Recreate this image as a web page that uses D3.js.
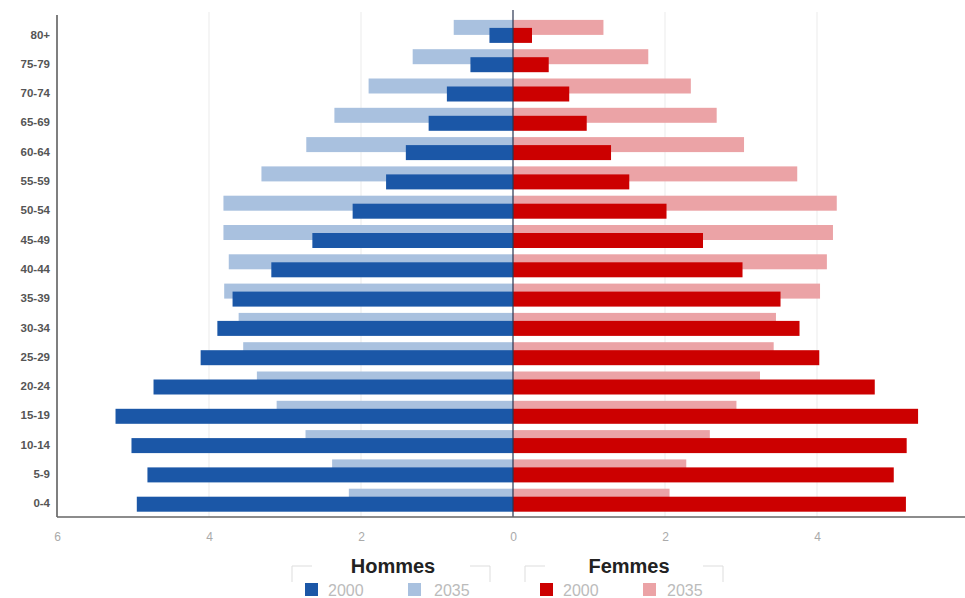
<!DOCTYPE html>
<html><head><meta charset="utf-8">
<script src="https://cdn.jsdelivr.net/npm/d3@7"></script>
<style>body{margin:0;background:#fff;}svg{display:block;font-family:Arial,"Liberation Sans",sans-serif;}</style>
</head><body><svg id="c" width="965" height="598"></svg>
<script>
const ageGroups = ["80+","75-79","70-74","65-69","60-64","55-59","50-54","45-49","40-44","35-39","30-34","25-29","20-24","15-19","10-14","5-9","0-4"];
const hommes2000 = [0.31,0.56,0.87,1.11,1.41,1.67,2.11,2.64,3.18,3.69,3.89,4.11,4.73,5.23,5.02,4.81,4.95];
const hommes2035 = [0.78,1.32,1.90,2.35,2.72,3.31,3.81,3.81,3.74,3.80,3.61,3.55,3.37,3.11,2.73,2.38,2.16];
const femmes2000 = [0.25,0.47,0.74,0.97,1.29,1.53,2.02,2.50,3.02,3.52,3.77,4.03,4.76,5.33,5.18,5.01,5.17];
const femmes2035 = [1.19,1.78,2.34,2.68,3.04,3.74,4.26,4.21,4.13,4.04,3.46,3.43,3.25,2.94,2.59,2.28,2.06];
const xTicks = [-6,-4,-2,0,2,4];
const legendGroups = ["Hommes","Femmes"];
const legendYears = ["2000","2035"];

const colors = {h2000:"#1b57a7", h2035:"#a9c1df", f2000:"#cc0000", f2035:"#eba3a6"};

const svg = d3.select("#c");
const pLeft = 57, pRight = 969, pTop = 12, pBottom = 517;
const x = d3.scaleLinear().domain([-6,6]).range([pLeft,pRight]);
const y = d3.scaleBand().domain(ageGroups).range([pBottom - 17*29.3, pBottom]);
const bw = y.bandwidth();

// gridlines
svg.append("g").selectAll("line").data(xTicks.filter(d=>d!==0 && d!==-6)).join("line")
  .attr("x1",d=>x(d)).attr("x2",d=>x(d)).attr("y1",pTop).attr("y2",pBottom)
  .attr("stroke","#ebebeb").attr("stroke-width",1);

const series = [
  {vals:hommes2035, sign:-1, color:colors.h2035, off:1},
  {vals:femmes2035, sign:1, color:colors.f2035, off:1},
  {vals:hommes2000, sign:-1, color:colors.h2000, off:9},
  {vals:femmes2000, sign:1, color:colors.f2000, off:9}
];
series.forEach(s=>{
  svg.append("g").selectAll("rect").data(s.vals).join("rect")
    .attr("x",(d)=> s.sign<0 ? x(-d) : x(0))
    .attr("width",d=> Math.abs(x(d)-x(0)))
    .attr("y",(d,i)=> y(ageGroups[i]) + s.off)
    .attr("height",15)
    .attr("fill",s.color);
});

// zero line
svg.append("line").attr("x1",x(0)).attr("x2",x(0)).attr("y1",pTop-2).attr("y2",pBottom)
  .attr("stroke","#2a3550").attr("stroke-width",1.2);

// left axis
svg.append("line").attr("x1",pLeft).attr("x2",pLeft).attr("y1",pTop+3).attr("y2",pBottom)
  .attr("stroke","#555").attr("stroke-width",1.5);
// bottom axis
svg.append("line").attr("x1",pLeft).attr("x2",965).attr("y1",pBottom).attr("y2",pBottom)
  .attr("stroke","#666").attr("stroke-width",1.5);

// y labels
svg.append("g").selectAll("text").data(ageGroups).join("text")
  .attr("x",50).attr("y",d=>y(d)+bw/2+1).attr("dy","0.35em")
  .attr("text-anchor","end").attr("font-size",11.5).attr("fill","#555").attr("font-weight","bold")
  .text(d=>d);

// x tick labels
const xAxis = d3.axisBottom(x).tickValues(xTicks).tickFormat(d=>Math.abs(d)).tickSize(0).tickPadding(15);
const gx = svg.append("g").attr("transform",`translate(0,${pBottom})`).call(xAxis);
gx.select(".domain").remove();
gx.selectAll("text").attr("font-size",12).attr("fill","#aaa").attr("font-family","Arial,sans-serif");

// legend
const lg = [
  {cx:393, c1:colors.h2000, c2:colors.h2035, bl:292, br:490, sx:[305,408], tx:[328,434]},
  {cx:629, c1:colors.f2000, c2:colors.f2035, bl:525, br:723, sx:[540,643], tx:[563,667]}
];
lg.forEach((g,gi)=>{
  const G = svg.append("g");
  G.append("text").attr("x",g.cx).attr("y",573).attr("text-anchor","middle")
    .attr("font-size",20).attr("font-weight","bold").attr("fill","#222").text(legendGroups[gi]);
  G.append("path").attr("d",`M${g.bl+20},566 H${g.bl} V582`).attr("fill","none").attr("stroke","#ddd");
  G.append("path").attr("d",`M${g.br-20},566 H${g.br} V582`).attr("fill","none").attr("stroke","#ddd");
  [g.c1,g.c2].forEach((c,i)=>{
    G.append("rect").attr("x",g.sx[i]).attr("y",583).attr("width",13).attr("height",13).attr("fill",c);
    G.append("text").attr("x",g.tx[i]).attr("y",596).attr("font-size",16).attr("fill","#bbb").text(legendYears[i]);
  });
});
</script></body></html>
